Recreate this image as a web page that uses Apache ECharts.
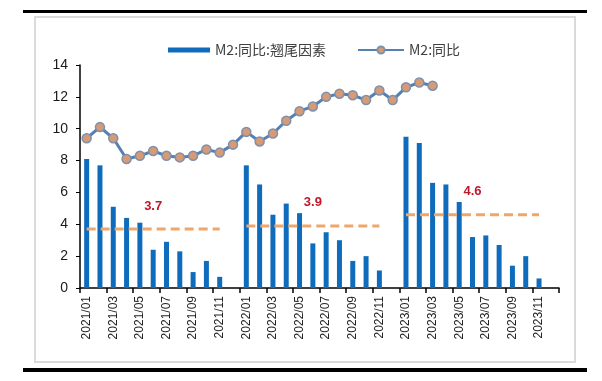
<!DOCTYPE html>
<html>
<head>
<meta charset="utf-8">
<script src="https://cdn.jsdelivr.net/npm/echarts@6/dist/echarts.min.js"></script>
<style>html,body{margin:0;padding:0;background:#fff;}#c{width:602px;height:381px;}</style>
</head>
<body>
<div id="c"></div>
<script>
var categories = [
  '2021/01','2021/02','2021/03','2021/04','2021/05','2021/06','2021/07','2021/08','2021/09','2021/10','2021/11','2021/12',
  '2022/01','2022/02','2022/03','2022/04','2022/05','2022/06','2022/07','2022/08','2022/09','2022/10','2022/11','2022/12',
  '2023/01','2023/02','2023/03','2023/04','2023/05','2023/06','2023/07','2023/08','2023/09','2023/10','2023/11','2023/12'
];
var tailFactor = [
  8.1, 7.7, 5.1, 4.4, 4.1, 2.4, 2.9, 2.3, 1.0, 1.7, 0.7, null,
  7.7, 6.5, 4.6, 5.3, 4.7, 2.8, 3.5, 3.0, 1.7, 2.0, 1.1, null,
  9.5, 9.1, 6.6, 6.5, 5.4, 3.2, 3.3, 2.7, 1.4, 2.0, 0.6, null
];
var m2Yoy = [
  9.4, 10.1, 9.4, 8.1, 8.3, 8.6, 8.3, 8.2, 8.3, 8.7, 8.5, 9.0,
  9.8, 9.2, 9.7, 10.5, 11.1, 11.4, 12.0, 12.2, 12.1, 11.8, 12.4, 11.8,
  12.6, 12.9, 12.7, null, null, null, null, null, null, null, null, null
];
var yearAvg = [3.7, 3.9, 4.6];
var yTicks = [0, 2, 4, 6, 8, 10, 12, 14];

var avgData = [];
for (var y = 0; y < yearAvg.length; y++) {
  for (var m = 0; m < 12; m++) {
    if (m === 11) { avgData.push(null); continue; }
    if (m === 5) {
      avgData.push({
        value: yearAvg[y],
        symbol: 'circle', symbolSize: 1,
        itemStyle: {color: 'rgba(0,0,0,0)', borderWidth: 0},
        label: {show: true, formatter: String(yearAvg[y])}
      });
    } else {
      avgData.push({value: yearAvg[y], symbol: 'none'});
    }
  }
}

var chart = echarts.init(document.getElementById('c'), null, {renderer: 'canvas'});
var font = '"Noto Sans CJK SC", "Noto Sans", sans-serif';
chart.setOption({
  animation: false,
  backgroundColor: '#ffffff',
  graphic: [
    {type: 'rect', shape: {x: 23, y: 10, width: 564, height: 3}, style: {fill: '#000'}, silent: true},
    {type: 'rect', shape: {x: 35, y: 17, width: 540, height: 345}, style: {fill: 'none', stroke: '#dadada', lineWidth: 2}, silent: true},
    {type: 'rect', shape: {x: 23, y: 368, width: 564, height: 4}, style: {fill: '#000'}, silent: true}
  ],
  legend: [
    {
      data: ['M2:同比:翘尾因素'], left: 163, top: 38, itemWidth: 42, itemHeight: 5, itemGap: 0,
      icon: 'rect',
      textStyle: {fontSize: 14, color: '#404040', fontFamily: font}
    },
    {
      data: ['M2:同比'], left: 352, top: 38, itemWidth: 46, itemHeight: 9, itemGap: 0,
      textStyle: {fontSize: 14, color: '#404040', fontFamily: font}
    }
  ],
  grid: {left: 80, right: 43, top: 65, bottom: 93, containLabel: false},
  xAxis: {
    type: 'category',
    data: categories,
    boundaryGap: true,
    axisLine: {lineStyle: {color: '#000', width: 1.5}},
    axisTick: {show: true, interval: 1, length: 5, lineStyle: {color: '#000', width: 1.5}},
    axisLabel: {interval: 1, rotate: 90, fontSize: 12, color: '#1f1f1f', fontFamily: '"Liberation Sans", Arial, sans-serif', margin: 8}
  },
  yAxis: {
    type: 'value',
    min: yTicks[0], max: yTicks[yTicks.length - 1], interval: 2,
    splitLine: {show: false},
    axisLine: {show: true, lineStyle: {color: '#000', width: 1.5}},
    axisTick: {show: true, length: 4, lineStyle: {color: '#000', width: 1}},
    axisLabel: {fontSize: 14, color: '#1a1a1a', fontFamily: '"Liberation Sans", Arial, sans-serif', margin: 12}
  },
  series: [
    {
      name: 'M2:同比:翘尾因素',
      type: 'bar',
      data: tailFactor,
      barWidth: 5,
      itemStyle: {color: '#0F6CBD'}
    },
    {
      name: 'M2:同比',
      type: 'line',
      data: m2Yoy,
      symbol: 'circle',
      symbolSize: 9,
      showAllSymbol: true,
      lineStyle: {color: '#5680B0', width: 3},
      itemStyle: {color: '#D69B74', borderColor: '#7F90AC', borderWidth: 1.5}
    },
    {
      name: 'avg',
      type: 'line',
      data: avgData,
      showAllSymbol: true,
      connectNulls: false,
      lineStyle: {color: '#EFA66A', width: 3, type: [9, 5]},
      label: {position: 'top', distance: 16, color: '#C0182A', fontWeight: 'bold', fontSize: 13, fontFamily: '"Liberation Sans", Arial, sans-serif'},
      z: 3
    }
  ]
});
</script>
</body>
</html>
